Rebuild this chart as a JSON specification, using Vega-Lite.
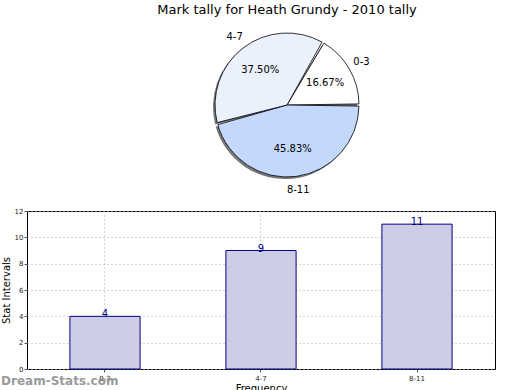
{
  "$schema": "https://vega.github.io/schema/vega-lite/v6.json",
  "padding": {"top": 4, "left": 0, "right": 0, "bottom": 0},
  "spacing": 10,
  "config": {"font": "DejaVu Sans", "view": {"stroke": null}},
  "vconcat": [
    {
      "width": 520,
      "height": 168,
      "title": {"text": "Mark tally for Heath Grundy - 2010 tally", "fontSize": 13, "fontWeight": "normal", "offset": 4, "font": "DejaVu Sans"},
      "data": {"values": [
        {"range": "0-3", "count": 4, "pct": "16.67%", "ord": 1},
        {"range": "8-11", "count": 11, "pct": "45.83%", "ord": 2},
        {"range": "4-7", "count": 9, "pct": "37.50%", "ord": 3}
      ]},
      "encoding": {
        "theta": {"field": "count", "type": "quantitative", "stack": true, "scale": {"range": [0.5236, 6.8068]}},
        "order": {"field": "ord", "type": "quantitative"}
      },
      "layer": [
        {"mark": {"type": "arc", "outerRadius": 72, "color": "#777777", "xOffset": -2, "yOffset": 2, "padAngle": 0.03}},
        {"mark": {"type": "arc", "outerRadius": 72, "stroke": "black", "strokeWidth": 0.8, "padAngle": 0.03},
         "encoding": {"color": {"field": "range", "type": "nominal", "legend": null,
           "scale": {"domain": ["0-3", "4-7", "8-11"], "range": ["#ffffff", "#eaf1fd", "#c4d8fd"]}}}},
        {"mark": {"type": "text", "radius": 44, "fontSize": 10, "color": "black"},
         "encoding": {"text": {"field": "pct"}}},
        {"mark": {"type": "text", "radius": 86, "fontSize": 10, "color": "black"},
         "encoding": {"text": {"field": "range"}}}
      ]
    },
    {
      "width": 468,
      "height": 158,
      "view": {"stroke": "black", "strokeWidth": 1},
      "title": {"text": "Dream-Stats.com", "orient": "bottom", "anchor": "start", "frame": "bounds", "color": "#9a9a9a", "fontSize": 12, "fontWeight": "bold", "offset": -17},
      "data": {"values": [
        {"range": "0-3", "count": 4},
        {"range": "4-7", "count": 9},
        {"range": "8-11", "count": 11}
      ]},
      "encoding": {
        "x": {"field": "range", "type": "nominal", "sort": ["0-3", "4-7", "8-11"],
          "scale": {"paddingInner": 0.55, "paddingOuter": 0.275},
          "axis": {"title": "Frequency", "labelAngle": 0, "labelFontSize": 7, "titleFontSize": 10, "titleFontWeight": "normal",
            "grid": true, "gridDash": [1, 3], "gridColor": "#aaaaaa", "bandPosition": 0.5, "domain": false,
            "tickSize": 3, "tickColor": "#555", "labelPadding": 2, "titlePadding": 2, "labelColor": "#222"}},
        "y": {"field": "count", "type": "quantitative", "scale": {"domain": [0, 12], "nice": false},
          "axis": {"title": "Stat Intervals", "values": [0, 2, 4, 6, 8, 10, 12], "labelFontSize": 7, "titleFontSize": 10, "titleFontWeight": "normal",
            "grid": true, "gridDash": [1, 3], "gridColor": "#aaaaaa", "domain": false, "tickSize": 3, "tickColor": "#555", "labelPadding": 1, "titlePadding": 3, "labelColor": "#222"}}
      },
      "layer": [
        {"mark": {"type": "bar", "fill": "#ccccE4", "stroke": "#000080", "strokeWidth": 1}},
        {"mark": {"type": "text", "baseline": "bottom", "dy": 3, "fontSize": 10, "color": "#000080"},
         "encoding": {"text": {"field": "count", "type": "quantitative"}}}
      ]
    }
  ]
}
